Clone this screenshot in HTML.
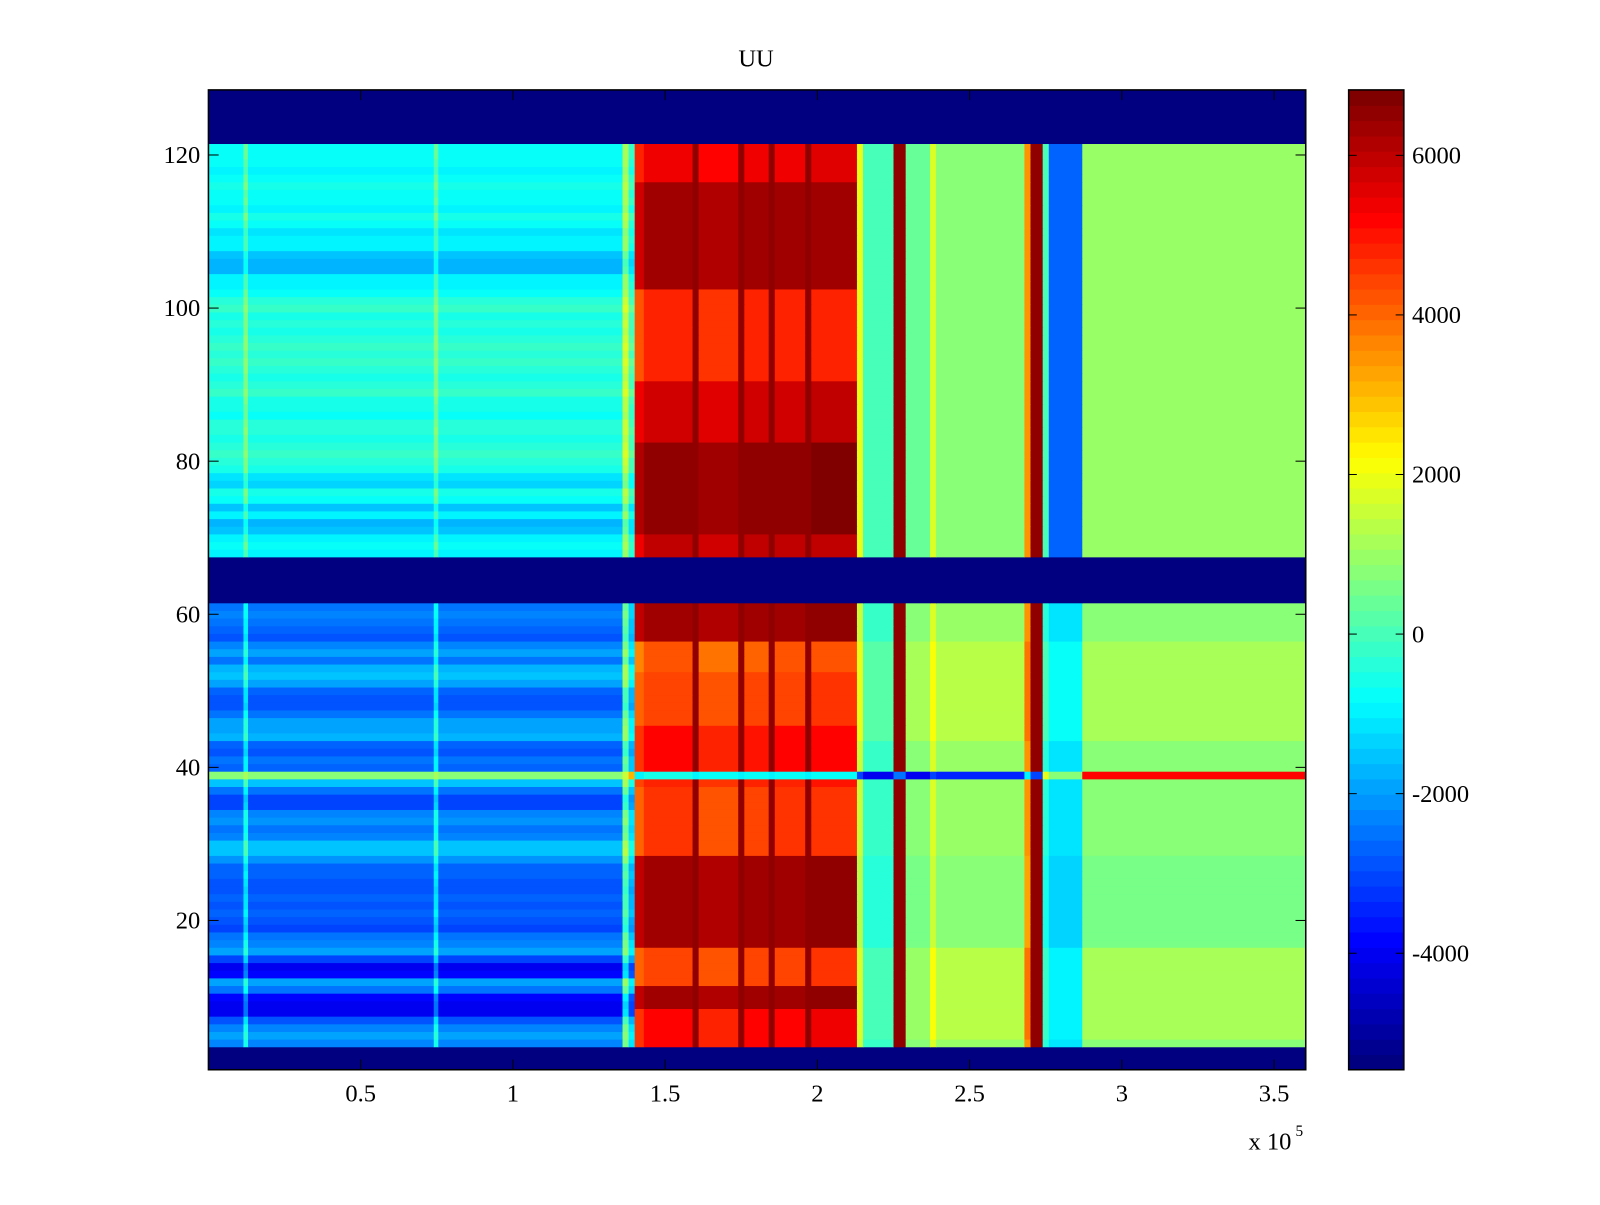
<!DOCTYPE html>
<html><head><meta charset="utf-8"><style>
body{margin:0;background:#fff;}
svg text{font-family:"Liberation Serif",serif;fill:#000;}
</style></head><body>
<svg id="chart" width="1600" height="1200" viewBox="0 0 1566 1174.5" xmlns="http://www.w3.org/2000/svg">
<rect width="1566" height="1175" fill="#fff"/>
<text x="740" y="65" font-size="24" text-anchor="middle">UU</text>
<g id="cells"></g>
<g id="cbar"></g>
<g id="axes"></g>
</svg>
<script>
// data: column segments (x end in 1e5 units), upper-block value, lower-block value, segment type
const segEnd = [0.115,0.13,0.74,0.755,1.36,1.38,1.40,1.43,1.59,1.61,1.74,1.76,1.84,1.86,1.96,1.98,2.13,2.15,2.25,2.29,2.37,2.39,2.68,2.70,2.74,2.76,2.87,3.604];
const segUpper = [-700,300,-700,300,-700,1200,-200,4600,5100,6500,4900,6500,5100,6500,5100,6500,5200,2000,0,6500,300,1800,700,3500,6500,0,-2600,900];
const segLower = [-2200,-600,-2200,-600,-2200,600,-1200,4400,4900,6500,4600,6500,4800,6500,4900,6500,5000,1500,-200,6500,700,1800,1000,3500,6500,-400,-1200,800];
const segType = ['L','L','L','L','L','L','L','R','R','F','R','F','R','F','R','F','R','O','O','F','O','O','O','O','F','O','O','O'];
// per-row offsets, rows 1..128, for left (L), red (R) and other (O) regions
const leftOffset = [0,0,0,0,200,0,-600,-1800,-1900,-1600,-200,300,-1700,-1900,-800,200,0,-300,-900,-700,-400,-600,-500,-700,-600,-400,-500,100,700,600,0,-200,100,0,-800,-900,-300,600,0,-400,-300,-700,-500,400,300,200,-200,-700,-600,-500,300,600,500,-300,300,0,-600,-400,-300,-100,-200,0,0,0,0,0,0,-200,0,-200,-900,-1000,-300,-900,0,200,-600,-500,200,300,500,300,200,400,300,0,100,200,500,300,200,400,500,300,500,400,200,300,200,500,300,0,-200,-300,-1000,-1100,-900,-300,-200,-400,-100,200,-300,0,-100,200,0,-300,-100,0,0,0,0,0,0,0,0,0];
const redOffset = [0,0,0, 300,300,300,300,300, 1500,1500,1500, -400,-400,-400,-400,-400, 1500,1500,1500,1500,1500,1500,1500,1500,1500,1500,1500,1500, -300,-300,-300,-300,-300,-300,-300,-300,-300, 0, 0, 200,200,200,200,200,200, -400,-400,-400,-400,-400,-400,-400, -700,-700,-700,-700, 1500,1500,1500,1500,1500, 0,0,0,0,0,0, 800,800,800, 1500,1500,1500,1500,1500,1500,1500,1500,1500,1500,1500,1500, 700,700,700,700,700,700,700,700, -300,-300,-300,-300,-300,-300,-300,-300,-300,-300,-300,-300, 1200,1200,1200,1200,1200,1200,1200,1200,1200,1200,1200,1200,1200,1200, 300,300,300,300,300, 0,0,0,0,0,0,0];
const otherOffset = [0,0,0,0, 300,300,300,300,300,300,300,300,300,300,300,300, -200,-200,-200,-200,-200,-200,-200,-200,-200,-200,-200,-200, 0,0,0,0,0,0,0,0,0,0,0,0,0,0,0, 400,400,400,400,400,400,400,400,400,400,400,400,400, 0,0,0,0,0,0,0,0,0,0,0,0,0,0,0,0,0,0,0,0,0,0,0,0,0,0,0,0,0,0,0,0,0,0,0,0,0,0,0,0,0,0,0,0,0,0,0,0,0,0,0,0,0,0,0,0,0,0,0,0,0,0,0,0,0,0,0,0,0,0];
// rows shown as no-data (minimum colour)
const nanRows = [1,2,3,62,63,64,65,66,67,122,123,124,125,126,127,128];
// special row 39 values per segment
const row39 = [800,1200,800,1200,800,1500,3000,-1000,-500,-1000,-800,-1000,-800,-1000,-800,-1000,-800,-3000,-4000,-2500,-4000,-3000,-3500,-1000,-3000,2000,800,5200];
const cbTicks = [-4000,-2000,0,2000,4000,6000];
const xTicks = [0.5,1,1.5,2,2.5,3,3.5];
const yTicks = [20,40,60,80,100,120];

const NS="http://www.w3.org/2000/svg";
const PX0=204,PX1=1278,PY0=88,PY1=1047;
const XMIN=0,XMAX=3.604,YMIN=0.5,YMAX=128.5;
const CMIN=-5460,CMAX=6820;
const sx=v=>PX0+(v-XMIN)/(XMAX-XMIN)*(PX1-PX0);
const sy=v=>PY1-(v-YMIN)/(YMAX-YMIN)*(PY1-PY0);
function jet(v){
  let t=(v-CMIN)/(CMAX-CMIN); t=Math.max(0,Math.min(1,t));
  t=Math.min(63,Math.floor(t*64))/63;
  const f=x=>Math.max(0,Math.min(1,x));
  const r=f(Math.min(4*t-1.5,-4*t+4.5)),g=f(Math.min(4*t-0.5,-4*t+3.5)),b=f(Math.min(4*t+0.5,-4*t+2.5));
  return `rgb(${Math.round(r*255)},${Math.round(g*255)},${Math.round(b*255)})`;
}
function mk(tag,attrs,parent){const e=document.createElementNS(NS,tag);for(const k in attrs)e.setAttribute(k,attrs[k]);parent.appendChild(e);return e;}
const cells=document.getElementById('cells');
for(let r=1;r<=128;r++){
  const y0=sy(r+0.5),y1=sy(r-0.5);
  let xs=XMIN;
  for(let c=0;c<segEnd.length;c++){
    let v;
    if(nanRows.includes(r)) v=CMIN;
    else if(r===39) v=row39[c];
    else {
      v=(r>=62?segUpper[c]:segLower[c]);
      if(segType[c]==='L') v+=leftOffset[r-1];
      else if(segType[c]==='R') v+=redOffset[r-1];
      else if(segType[c]==='O') v+=otherOffset[r-1];
    }
    const el=mk('rect',{x:sx(xs),y:y0,width:sx(segEnd[c])-sx(xs)+0.5,height:y1-y0+0.5,fill:jet(v)},cells);
    
    
    xs=segEnd[c];
  }
}
const axes=document.getElementById('axes');
mk('rect',{x:PX0,y:PY0,width:PX1-PX0,height:PY1-PY0,fill:'none',stroke:'#000','stroke-width':1.5},axes);
xTicks.forEach(t=>{const x=sx(t);
  mk('line',{x1:x,y1:PY1,x2:x,y2:PY1-10,stroke:'#000'},axes);
  mk('line',{x1:x,y1:PY0,x2:x,y2:PY0+10,stroke:'#000'},axes);
  const tx=mk('text',{x:x,y:1078,'font-size':24,'text-anchor':'middle'},axes);tx.textContent=t;
  
  
});
yTicks.forEach(t=>{const y=sy(t);
  mk('line',{x1:PX0,y1:y,x2:PX0+10,y2:y,stroke:'#000'},axes);
  mk('line',{x1:PX1,y1:y,x2:PX1-10,y2:y,stroke:'#000'},axes);
  const tx=mk('text',{x:196,y:y+8,'font-size':24,'text-anchor':'end'},axes);tx.textContent=t;
  
  
});
const ex=mk('text',{x:1222,y:1125,'font-size':24},axes);ex.textContent='x 10';


const ex2=mk('text',{x:1268,y:1112,'font-size':15},axes);ex2.textContent='5';


// colorbar
const cb=document.getElementById('cbar');
const CX0=1320,CX1=1374;
const cy=v=>PY1-(v-CMIN)/(CMAX-CMIN)*(PY1-PY0);
for(let i=0;i<64;i++){
  const v0=CMIN+i*(CMAX-CMIN)/64,v1=CMIN+(i+1)*(CMAX-CMIN)/64;
  const el=mk('rect',{x:CX0,y:cy(v1),width:CX1-CX0,height:cy(v0)-cy(v1)+0.6,fill:jet((v0+v1)/2)},cb);
  
  
}
mk('rect',{x:CX0,y:PY0,width:CX1-CX0,height:PY1-PY0,fill:'none',stroke:'#000','stroke-width':1.5},cb);
cbTicks.forEach(t=>{const y=cy(t);
  mk('line',{x1:CX0,y1:y,x2:CX0+8,y2:y,stroke:'#000'},cb);
  mk('line',{x1:CX1,y1:y,x2:CX1-8,y2:y,stroke:'#000'},cb);
  const tx=mk('text',{x:1382,y:y+8,'font-size':24},cb);tx.textContent=t;
  
  
});
</script>
</body></html>
